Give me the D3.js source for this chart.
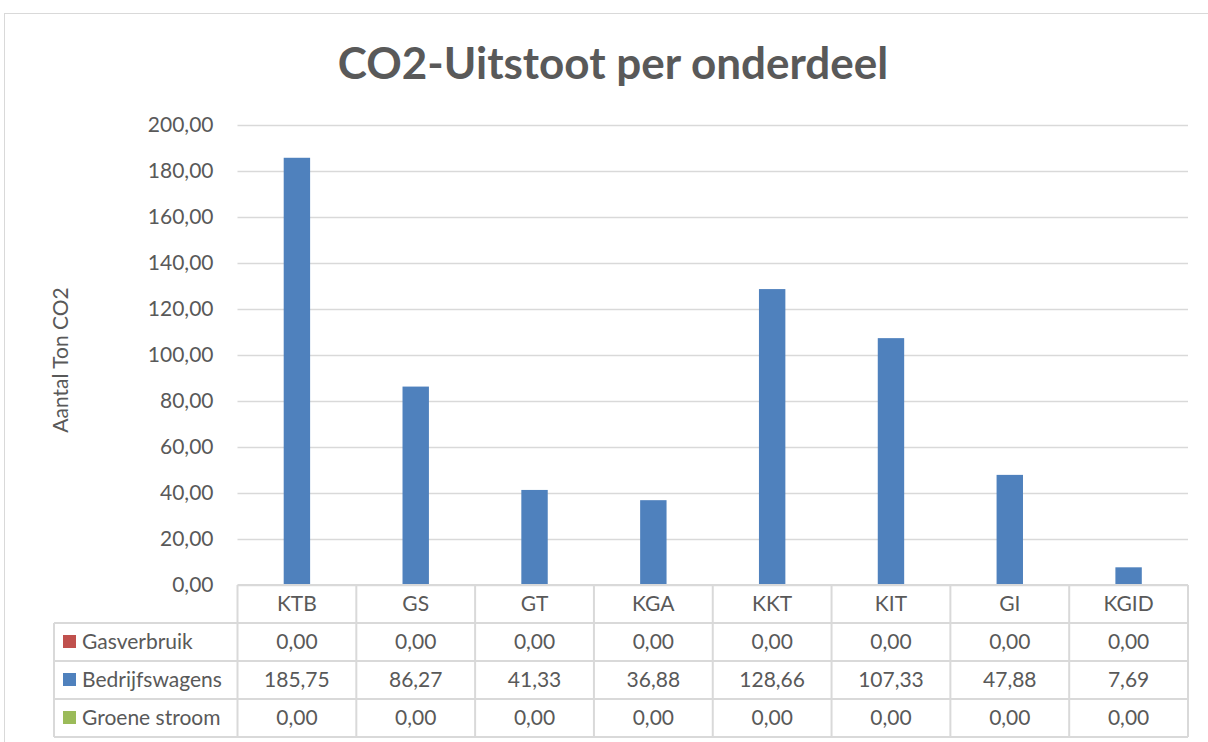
<!DOCTYPE html>
<html>
<head>
<meta charset="utf-8">
<script src="https://cdn.jsdelivr.net/npm/d3@7"></script>
<style>
  body { margin: 0; background: #fff; }
  text { font-family: Lato, "Open Sans", sans-serif; fill: #595959; }
</style>
</head>
<body>
<div id="chart"></div>
<script>
var categories = ['KTB', 'GS', 'GT', 'KGA', 'KKT', 'KIT', 'GI', 'KGID'];
var seriesNames = ['Gasverbruik', 'Bedrijfswagens', 'Groene stroom'];
var seriesColors = ['#c0504d', '#4f81bd', '#9bbb59'];
var gasverbruik = [0, 0, 0, 0, 0, 0, 0, 0];
var bedrijfswagens = [185.75, 86.27, 41.33, 36.88, 128.66, 107.33, 47.88, 7.69];
var groeneStroom = [0, 0, 0, 0, 0, 0, 0, 0];
var yTicks = [0, 20, 40, 60, 80, 100, 120, 140, 160, 180, 200];

var seriesValues = [gasverbruik, bedrijfswagens, groeneStroom];

var width = 1208, height = 742;
var margin = { top: 125, left: 237.5, right: 20, bottom: 157 };
var rowH = 38;
var fontSize = '21px';

var svg = d3.select('#chart').append('svg')
  .attr('width', width)
  .attr('height', height);

// outer chart border
svg.append('rect')
  .attr('x', 4.5).attr('y', 13.5)
  .attr('width', width + 10).attr('height', height + 10)
  .attr('fill', 'none').attr('stroke', '#d9d9d9');

var x = d3.scaleBand()
  .domain(categories)
  .range([margin.left, width - margin.right])
  .padding(0);

var xs = d3.scaleBand()
  .domain(seriesNames)
  .range([0, x.bandwidth()])
  .paddingInner(0)
  .paddingOuter(0.75);

var y = d3.scaleLinear()
  .domain([0, 200])
  .range([height - margin.bottom, margin.top]);

var fmt = function (v) { return v.toFixed(2).replace('.', ','); };

// title
svg.append('text')
  .attr('x', 613).attr('y', 79)
  .attr('text-anchor', 'middle')
  .style('font-size', '44px')
  .style('font-weight', 'bold')
  .text('CO2-Uitstoot per onderdeel');

// gridlines
svg.append('g')
  .selectAll('line')
  .data(yTicks)
  .enter()
  .append('line')
    .attr('x1', margin.left).attr('x2', width - margin.right)
    .attr('y1', function (d) { return Math.round(y(d)) + 0.5; })
    .attr('y2', function (d) { return Math.round(y(d)) + 0.5; })
    .attr('stroke', '#d9d9d9')
    .attr('stroke-width', 1.5);

// y axis labels
var yAxis = svg.append('g')
  .attr('transform', 'translate(' + (margin.left - 24) + ',0)')
  .call(d3.axisLeft(y).tickValues(yTicks).tickFormat(fmt).tickSize(0).tickPadding(0));
yAxis.select('.domain').remove();
yAxis.selectAll('text')
  .style('font-size', fontSize)
  .style('font-family', 'Lato, sans-serif')
  .attr('fill', '#595959');

// y axis title
svg.append('text')
  .attr('transform', 'translate(68,' + 360 + ') rotate(-90)')
  .attr('text-anchor', 'middle')
  .style('font-size', fontSize)
  .text('Aantal Ton CO2');

// bars
seriesNames.forEach(function (s, si) {
  svg.append('g')
    .selectAll('rect')
    .data(seriesValues[si])
    .enter()
    .append('rect')
      .attr('x', function (d, i) { return x(categories[i]) + xs(s); })
      .attr('y', function (d) { return y(d); })
      .attr('width', xs.bandwidth())
      .attr('height', function (d) { return y(0) - y(d); })
      .attr('fill', seriesColors[si]);
});

// data table
var tableTop = y(0);
var tableLeft = 54;
var table = svg.append('g');
var lineColor = '#d9d9d9';

// horizontal lines
for (var r = 0; r <= 4; r++) {
  table.append('line')
    .attr('x1', r === 0 ? margin.left : tableLeft)
    .attr('x2', width - margin.right)
    .attr('y1', tableTop + r * rowH)
    .attr('y2', tableTop + r * rowH)
    .attr('stroke', lineColor).attr('stroke-width', 2);
}
// vertical lines
table.append('line')
  .attr('x1', tableLeft).attr('x2', tableLeft)
  .attr('y1', tableTop + rowH).attr('y2', tableTop + 4 * rowH)
  .attr('stroke', lineColor).attr('stroke-width', 2);
table.selectAll('.vline')
  .data(categories.concat(['end']))
  .enter()
  .append('line')
    .attr('x1', function (d, i) { return margin.left + i * x.step(); })
    .attr('x2', function (d, i) { return margin.left + i * x.step(); })
    .attr('y1', tableTop)
    .attr('y2', tableTop + 4 * rowH)
    .attr('stroke', lineColor).attr('stroke-width', 2);

// category labels
table.selectAll('.cat')
  .data(categories)
  .enter()
  .append('text')
    .attr('x', function (d) { return x(d) + x.bandwidth() / 2; })
    .attr('y', tableTop + rowH / 2 + 7)
    .attr('text-anchor', 'middle')
    .style('font-size', fontSize)
    .text(function (d) { return d; });

// series rows
seriesNames.forEach(function (s, si) {
  var rowY = tableTop + (si + 1) * rowH;
  table.append('rect')
    .attr('x', 63).attr('y', rowY + rowH / 2 - 7)
    .attr('width', 13).attr('height', 13)
    .attr('fill', seriesColors[si]);
  table.append('text')
    .attr('x', 82).attr('y', rowY + rowH / 2 + 7)
    .style('font-size', fontSize)
    .text(s);
  table.append('g')
    .selectAll('text')
    .data(seriesValues[si])
    .enter()
    .append('text')
      .attr('x', function (d, i) { return x(categories[i]) + x.bandwidth() / 2; })
      .attr('y', rowY + rowH / 2 + 7)
      .attr('text-anchor', 'middle')
      .style('font-size', fontSize)
      .text(fmt);
});
</script>
</body>
</html>
